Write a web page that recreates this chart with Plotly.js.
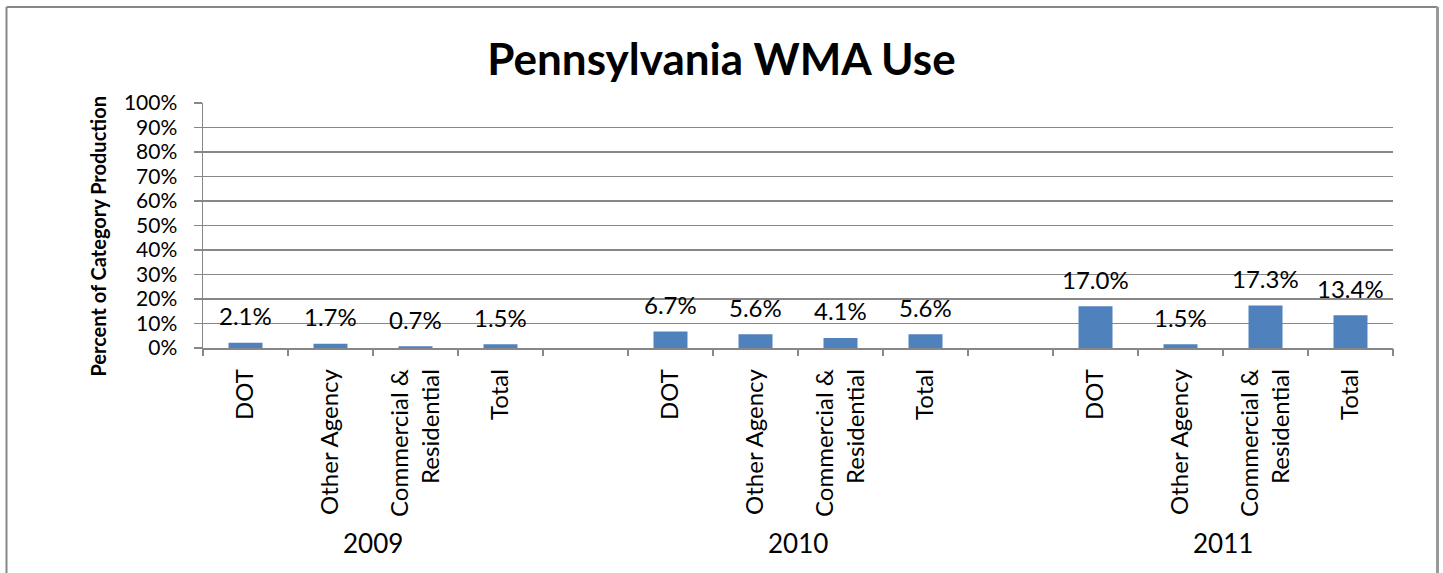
<!DOCTYPE html>
<html>
<head>
<meta charset="utf-8">
<script src="https://cdn.plot.ly/plotly-3.0.1.min.js"></script>
<style>html,body{margin:0;padding:0;background:#fff;}#chart{width:1443px;height:573px;}</style>
</head>
<body>
<div id="chart"></div>
<script>
// ---- data ----
const categories = ["DOT", "Other Agency", "Commercial &<br>Residential", "Total", "",
                    "DOT", "Other Agency", "Commercial &<br>Residential", "Total", "",
                    "DOT", "Other Agency", "Commercial &<br>Residential", "Total"];
const years = ["2009", "2010", "2011"];
const yearStart = [0, 5, 10];
const yearSize = 4;
const values = [2.1, 1.7, 0.7, 1.5, null,
                6.7, 5.6, 4.1, 5.6, null,
                17.0, 1.5, 17.3, 13.4];
const yTicks = [0, 10, 20, 30, 40, 50, 60, 70, 80, 90, 100];

const FONT = "Lato, 'Open Sans', sans-serif";
const xs = categories.map((c, i) => i);
const gray = "#878787";

const trace = {
  type: "bar",
  x: xs,
  y: values,
  width: 0.4,
  marker: {color: "#4F81BD", line: {width: 0}},
  hoverinfo: "skip"
};

const boundaryTrace = {
  type: "scatter", mode: "markers", x: [-0.5, 13.5], y: [0, 0],
  xaxis: "x2", yaxis: "y", marker: {opacity: 0}, hoverinfo: "skip", showlegend: false
};

const annotations = [];
values.forEach((v, i) => {
  if (v === null) return;
  annotations.push({
    x: xs[i], y: v, xref: "x", yref: "y", yshift: 27, yanchor: "middle",
    text: v.toFixed(1) + "%", showarrow: false,
    font: {family: FONT, size: 24, color: "#000"}
  });
});
years.forEach((yr, k) => {
  annotations.push({
    x: yearStart[k] + (yearSize - 1) / 2, y: -0.796, xref: "x", yref: "paper",
    yanchor: "middle", text: yr, showarrow: false,
    font: {family: FONT, size: 26, color: "#000"}
  });
});
annotations.push({
  x: -0.089, y: 0.455, xref: "paper", yref: "paper", xanchor: "center", yanchor: "middle",
  textangle: -90, text: "<b>Percent of Category Production</b>", showarrow: false,
  font: {family: FONT, size: 20, color: "#000"}
});

const pl = (px) => (px - 203) / 1190;
const pt = (py) => (348 - py) / 245;
const shapes = [
  {type: "line", xref: "paper", yref: "paper", x0: pl(6.5), x1: pl(6.5), y0: pt(7), y1: pt(580), line: {color: gray, width: 2}},
  {type: "line", xref: "paper", yref: "paper", x0: pl(6.5), x1: pl(1437.5), y0: pt(7), y1: pt(7), line: {color: gray, width: 2}},
  {type: "line", xref: "paper", yref: "paper", x0: pl(1437.5), x1: pl(1437.5), y0: pt(7), y1: pt(580), line: {color: "#999", width: 3}}
];

const layout = {
  width: 1443, height: 573,
  margin: {l: 203, r: 50, t: 103, b: 225},
  paper_bgcolor: "#fff", plot_bgcolor: "#fff",
  showlegend: false,
  title: {
    text: "<b>Pennsylvania WMA Use</b>", x: 0.5, xanchor: "center",
    y: 1 - 60 / 573, yref: "container", yanchor: "middle",
    font: {family: FONT, size: 44, color: "#000"}
  },
  xaxis: {
    type: "linear", range: [-0.5, 13.5], tickmode: "array", tickvals: xs, ticktext: categories,
    tickangle: -90, ticks: "", ticklabelstandoff: 10, showgrid: false, zeroline: false,
    showline: true, linecolor: gray, linewidth: 1.5,
    tickfont: {family: FONT, size: 24, color: "#000"}, fixedrange: true
  },
  xaxis2: {
    overlaying: "x", anchor: "y", side: "bottom", matches: "x", range: [-0.5, 13.5],
    tickmode: "linear", tick0: -0.5, dtick: 1, ticks: "outside", ticklen: 7,
    tickcolor: gray, tickwidth: 1.5, showticklabels: false, showgrid: false, zeroline: false,
    showline: false
  },
  yaxis: {
    range: [0, 100], tickmode: "array", tickvals: yTicks, ticktext: yTicks.map(t => t + "%"),
    ticks: "outside", ticklen: 8, tickcolor: gray, tickwidth: 1.5, ticklabelstandoff: 12,
    showgrid: true, gridcolor: gray, gridwidth: 1.5, zeroline: false,
    showline: true, linecolor: gray, linewidth: 1.5,
    tickfont: {family: FONT, size: 21, color: "#000"}, fixedrange: true
  },
  annotations: annotations,
  shapes: shapes,
  bargap: 0.6
};

Plotly.newPlot("chart", [trace, boundaryTrace], layout, {displayModeBar: false, staticPlot: true});
</script>
</body>
</html>
